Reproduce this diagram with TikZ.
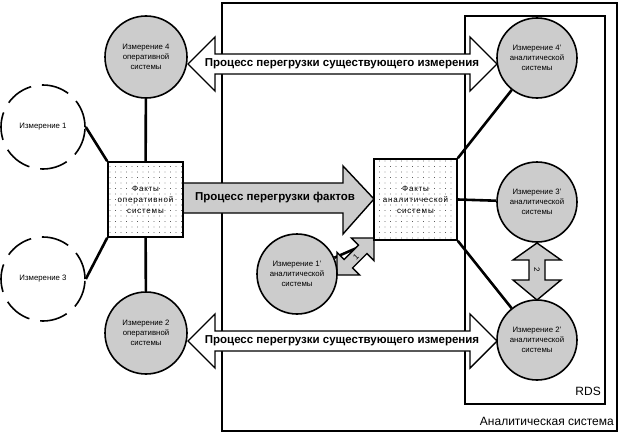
\documentclass[tikz,border=0pt]{standalone}
\usepackage{fontspec}
\setmainfont{Liberation Sans}
\newfontfamily\boxfont[LetterSpace=10]{Liberation Sans}
\usetikzlibrary{patterns.meta}
\definecolor{lgray}{RGB}{204,204,204}
\pgfdeclarelayer{bg}
\pgfsetlayers{bg,main}
\begin{document}
\begin{tikzpicture}[x=1pt,y=-1pt,
 dimop/.style={circle,draw,line width=1.6pt,fill=lgray,minimum size=82pt,inner sep=0pt,align=center,font=\fontsize{7.8}{9.8}\selectfont},
 dimext/.style={circle,draw,line width=1.6pt,dash pattern=on 28pt off 11pt,minimum size=84pt,inner sep=0pt,font=\fontsize{7.8}{9.5}\selectfont},
 factbox/.style={rectangle,draw,line width=1.6pt,preaction={fill=white},pattern={Dots[distance=5.5pt,radius=0.45pt]},minimum width=75pt,minimum height=75pt,inner sep=0pt,align=center,font=\boxfont\fontsize{8}{11}\selectfont},
 conn/.style={line width=2.6pt},
 framebox/.style={draw,line width=1.6pt},
 blockarrow/.style={draw,line width=1.4pt,fill=lgray,line join=miter},
 hollowarrow/.style={draw,line width=1.4pt,fill=white,line join=miter},
 arrowtext/.style={font=\bfseries\fontsize{11.5}{13}\selectfont,inner sep=0pt},
 framelabel/.style={font=\fontsize{12}{14}\selectfont,inner sep=0pt},
 numlabel/.style={font=\fontsize{8}{9}\selectfont,inner sep=0pt}
]
\useasboundingbox (0,0) rectangle (620,436);

% block arrows
\draw[hollowarrow] (188,64) -- (215,37) -- (215,54) -- (470,54) -- (470,37) -- (497,64)
  -- (470,91) -- (470,74) -- (215,74) -- (215,91) -- cycle;
\node[arrowtext] (t1) at (342,64) {Процесс перегрузки существующего измерения};
\draw[hollowarrow] (188,341) -- (215,314) -- (215,331) -- (470,331) -- (470,314) -- (497,341)
  -- (470,368) -- (470,351) -- (215,351) -- (215,368) -- cycle;
\node[arrowtext] (t2) at (342,341) {Процесс перегрузки существующего измерения};
\draw[blockarrow] (183,183) -- (343,183) -- (343,166) -- (374,199) -- (343,234) -- (343,213) -- (183,213) -- cycle;
\node[arrowtext] (t3) at (275,198) {Процесс перегрузки фактов};
\begin{scope}[shift={(337,275)},rotate=45]
\draw[blockarrow] (0,0) -- (16,16) -- (16,6) -- (36.3,6) -- (36.3,16) -- (52.3,0) -- (36.3,-16) -- (36.3,-6) -- (16,-6) -- (16,-16) -- cycle;
\end{scope}
\node[numlabel,rotate=45] (n1) at (356,257) {1};
\draw[blockarrow] (537,243) -- (513,260) -- (529,260) -- (529,280) -- (513,280) -- (537,300)
  -- (561,280) -- (545,280) -- (545,260) -- (561,260) -- cycle;
\node[numlabel,rotate=-90] (n2) at (537,270) {2};

% nodes
\node[dimop] (o4) at (146,57) {Измерение 4\\оперативной\\системы};
\node[dimop] (o2) at (146,333) {Измерение 2\\оперативной\\системы};
\node[dimext] (e1) at (43,127) {Измерение 1};
\node[dimext] (e3) at (43,279) {Измерение 3};
\node[factbox] (fo) at (145.5,199.5) {Факты\\оперативной\\системы};
\node[factbox,minimum width=83pt,minimum height=81pt] (fa) at (415.5,199.5) {Факты\\аналитической\\системы};
\node[dimop,minimum size=80pt] (a4) at (537,58) {Измерение 4'\\аналитической\\системы};
\node[dimop,minimum size=80pt] (a3) at (537,202) {Измерение 3'\\аналитической\\системы};
\node[dimop,minimum size=80pt] (a2) at (537,340) {Измерение 2'\\аналитической\\системы};
\node[dimop,minimum size=80pt] (a1) at (297,274) {Измерение 1'\\аналитической\\системы};

\node[framelabel,anchor=base east] (rds) at (601,395) {RDS};
\node[framelabel,anchor=base east] (asys) at (614,425) {Аналитическая система};

\begin{pgfonlayer}{bg}
\draw[framebox] (222,3) rectangle (617,431);
\draw[framebox] (465,16) rectangle (605,404);
\draw[conn] (o4) -- (fo);
\draw[conn] (o2) -- (fo);
\draw[conn] (e1.east) -- (fo.north west);
\draw[conn] (e3.east) -- (fo.south west);
\draw[conn] (fa.north east) -- (a4);
\draw[conn] (fa.south east) -- (a2);
\draw[conn] (fa.east) -- (a3);
\draw[conn] (a1) -- (fa.south west);
\end{pgfonlayer}
\end{tikzpicture}
\end{document}
